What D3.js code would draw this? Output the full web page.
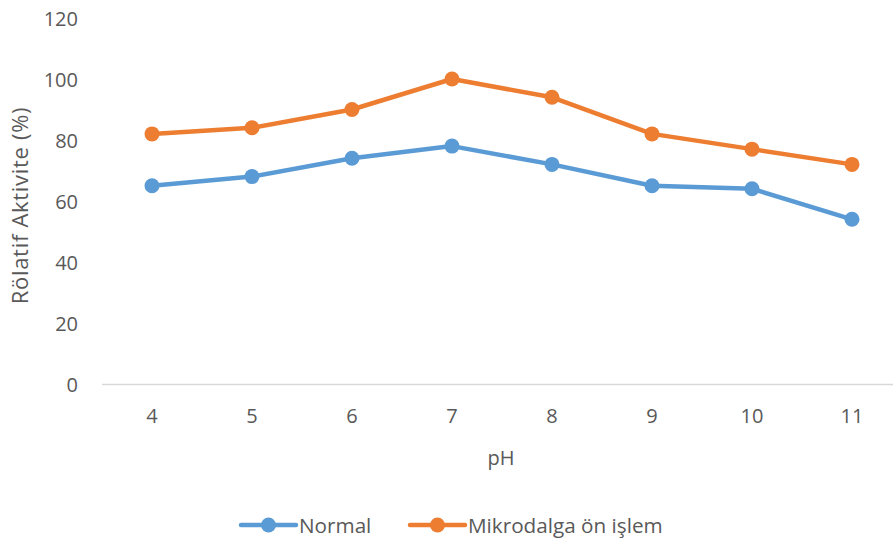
<!DOCTYPE html>
<html>
<head>
<meta charset="utf-8">
<script src="https://cdn.jsdelivr.net/npm/d3@7"></script>
<style>
  html, body { margin: 0; padding: 0; background: #fff; }
  svg { display: block; font-family: "Open Sans", "Liberation Sans", sans-serif; }
</style>
</head>
<body>
<svg id="chart" width="893" height="540"></svg>
<script>
// pH values on the x axis
const categories = ["4", "5", "6", "7", "8", "9", "10", "11"];
// Relative activity (%) per pH
const normalValues = [65, 68, 74, 78, 72, 65, 64, 54];
const microwaveValues = [82, 84, 90, 100, 94, 82, 77, 72];
const yTicks = [0, 20, 40, 60, 80, 100, 120];
const seriesNames = ["Normal", "Mikrodalga ön işlem"];
const seriesColors = ["#5B9BD5", "#ED7D31"];

const svg = d3.select("#chart");
const plot = { left: 102, right: 902, top: 18, bottom: 384 };

const x = d3.scaleBand().domain(categories).range([plot.left, plot.right]).padding(0);
const y = d3.scaleLinear().domain([0, 120]).range([plot.bottom, plot.top]);

const textColor = "#595959";
const font = '"Open Sans", "Liberation Sans", sans-serif';

// y axis labels (no axis line, no gridlines)
const yAxis = d3.axisLeft(y).tickValues(yTicks).tickSize(0).tickPadding(0);
const gy = svg.append("g").attr("transform", `translate(78,0)`).call(yAxis);
gy.select(".domain").remove();
gy.selectAll("text").attr("fill", textColor).attr("dy", 7)
  .style("font-size", "20px").style("font-family", font);

// x axis baseline + labels
const xAxis = d3.axisBottom(x).tickSize(0).tickPadding(0);
const gx = svg.append("g").attr("transform", `translate(0,${plot.bottom})`).call(xAxis);
gx.select(".domain").remove();
gx.selectAll("text").attr("fill", textColor).attr("y", 0).attr("dy", 39)
  .style("font-size", "20px").style("font-family", font);
svg.append("line")
  .attr("x1", plot.left).attr("x2", 893)
  .attr("y1", y(0) + 0.5).attr("y2", y(0) + 0.5)
  .attr("stroke", "#D9D9D9").attr("stroke-width", 1.5);

// axis titles
svg.append("text")
  .attr("x", 501).attr("y", 465)
  .attr("text-anchor", "middle").attr("fill", textColor)
  .style("font-size", "20px").text("pH");
svg.append("text")
  .attr("transform", `translate(28,205.5) rotate(-90)`)
  .attr("text-anchor", "middle").attr("fill", textColor)
  .style("font-size", "22px").style("letter-spacing", "0.7px")
  .text("Rölatif Aktivite (%)");

// series lines with markers
const series = [normalValues, microwaveValues];
const cx = (d, i) => x(categories[i]) + x.bandwidth() / 2;
const line = d3.line().x(cx).y(d => y(d));

series.forEach((vals, s) => {
  svg.append("path")
    .datum(vals)
    .attr("fill", "none")
    .attr("stroke", seriesColors[s])
    .attr("stroke-width", 4.5)
    .attr("stroke-linejoin", "round")
    .attr("stroke-linecap", "round")
    .attr("d", line);
  svg.append("g").selectAll("circle")
    .data(vals)
    .join("circle")
    .attr("cx", cx)
    .attr("cy", d => y(d))
    .attr("r", 7.5)
    .attr("fill", seriesColors[s]);
});

// legend
const legendItems = [
  { x0: 241, name: seriesNames[0], color: seriesColors[0] },
  { x0: 410, name: seriesNames[1], color: seriesColors[1] }
];
const ly = 525;
legendItems.forEach(item => {
  const g = svg.append("g");
  g.append("line")
    .attr("x1", item.x0).attr("x2", item.x0 + 55)
    .attr("y1", ly).attr("y2", ly)
    .attr("stroke", item.color).attr("stroke-width", 4.5)
    .attr("stroke-linecap", "round");
  g.append("circle").attr("cx", item.x0 + 27.5).attr("cy", ly).attr("r", 7.5).attr("fill", item.color);
  g.append("text")
    .attr("x", item.x0 + 58).attr("y", 533)
    .attr("fill", textColor).style("font-size", "20.7px")
    .text(item.name);
});
</script>
</body>
</html>
